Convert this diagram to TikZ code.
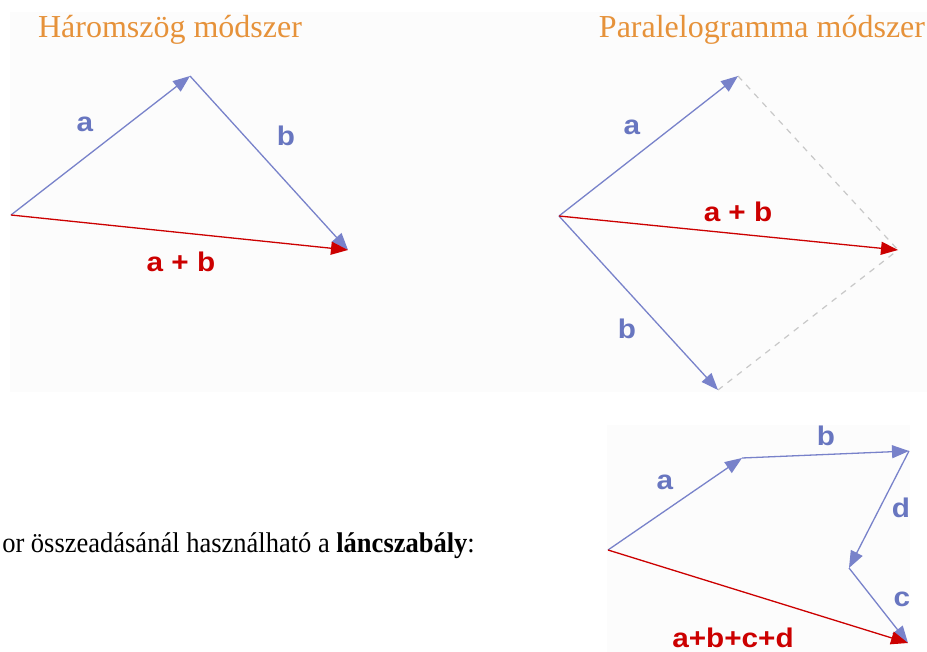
\documentclass[tikz,border=0pt]{standalone}
\usepackage{fontspec}
\usepackage{graphicx}
\setmainfont{Liberation Serif}
\newfontfamily\labfont{Liberation Sans}
\usetikzlibrary{arrows.meta}
\definecolor{vblue}{RGB}{120,130,202}
\definecolor{lblue}{RGB}{104,118,192}
\definecolor{vred}{RGB}{204,0,0}
\definecolor{ttl}{RGB}{230,146,58}
\definecolor{dgray}{RGB}{200,200,200}
\definecolor{panel}{RGB}{252,252,252}
\newcommand{\lblx}[1]{\scalebox{1.1}[1]{\labfont\bfseries\fontsize{27}{30}\selectfont #1}}
\newcommand{\bodyx}[1]{\scalebox{0.93}[1]{\fontsize{28.5}{32}\selectfont #1}}
\tikzset{
  vec/.style={draw=vblue, line width=1.3pt, -{Triangle[length=17pt,width=13pt]}},
  sumvec/.style={draw=vred, line width=1.3pt, -{Triangle[length=17pt,width=13pt]}},
  helper/.style={draw=dgray, line width=1.2pt, dash pattern=on 6pt off 6pt},
  blab/.style={text=lblue, inner sep=0pt},
  rlab/.style={text=vred, inner sep=0pt},
  ttlstyle/.style={text=ttl, inner sep=0pt, anchor=base, font=\fontsize{32}{36}\selectfont},
  bodytext/.style={text=black, inner sep=0pt, anchor=base east}
}
\begin{document}
\begin{tikzpicture}[x=1pt,y=-1pt]
\useasboundingbox (0,0) rectangle (927,652);
\clip (0,0) rectangle (927,652);
\fill[white] (0,0) rectangle (927,652);
\fill[panel] (10,12) rectangle (927,392);
\fill[panel] (607,425) rectangle (910,652);

% titles
\node[ttlstyle] (t1) at (170,38) {Háromszög módszer};
\node[ttlstyle] (t2) at (762,38) {Paralelogramma módszer};

% triangle method
\coordinate (O1) at (11,215);
\coordinate (A1) at (190,76);
\coordinate (B1) at (348,250);
\draw[vec] (O1) -- (A1);
\draw[vec] (A1) -- (B1);
\draw[sumvec] (O1) -- (B1);
\node[blab] (la1) at (85,124) {\lblx{a}};
\node[blab] (lb1) at (286,136) {\lblx{b}};
\node[rlab] (ls1) at (181,262) {\lblx{a + b}};

% parallelogram method
\coordinate (O2) at (559,216);
\coordinate (A2) at (738,76);
\coordinate (B2) at (718,390);
\coordinate (S2) at (898,250);
\draw[helper] (A2) -- (S2);
\draw[helper] (B2) -- (S2);
\draw[vec] (O2) -- (A2);
\draw[vec] (O2) -- (B2);
\draw[sumvec] (O2) -- (S2);
\node[blab] (la2) at (632,127) {\lblx{a}};
\node[blab] (lb2) at (627,329) {\lblx{b}};
\node[rlab] (ls2) at (738,212) {\lblx{a + b}};

% chain rule
\node[bodytext] (txt) at (475,552) {\bodyx{or összeadásánál használható a \textbf{láncszabály}:}};
\coordinate (O3) at (608,550);
\coordinate (A3) at (742,458);
\coordinate (B3) at (909,451);
\coordinate (D3) at (849,568);
\coordinate (C3) at (908,643);
\draw[vec] (O3) -- (A3);
\draw[vec] (A3) -- (B3);
\draw[vec] (B3) -- (D3);
\draw[vec] (D3) -- (C3);
\draw[sumvec] (O3) -- (C3);
\node[blab] (la3) at (665,482) {\lblx{a}};
\node[blab] (lb3) at (826,436) {\lblx{b}};
\node[blab] (ld3) at (901,508) {\lblx{d}};
\node[blab] (lc3) at (902,599) {\lblx{c}};
\node[rlab, anchor=base] (ls3) at (733,647) {\lblx{a+b+c+d}};
\end{tikzpicture}
\end{document}
